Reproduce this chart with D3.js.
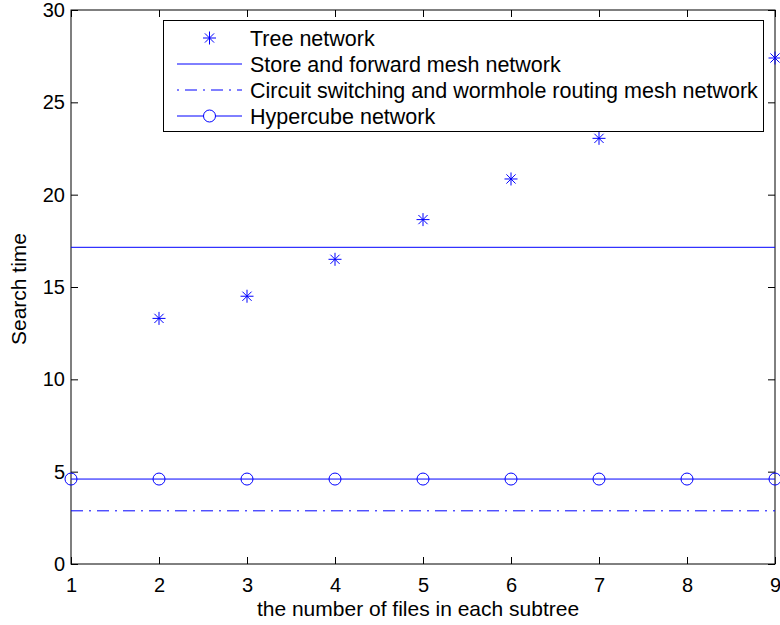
<!DOCTYPE html>
<html>
<head>
<meta charset="utf-8">
<script src="https://cdn.jsdelivr.net/npm/d3@7"></script>
<style>
	body { margin: 0; background: #fff; }
	text { font-family: 'Liberation Sans', Arial, sans-serif; fill: #000; }
</style>
</head>
<body>
<div id="chart"></div>
<script>
// values
const treeX = [ 2, 3, 4, 5, 6, 7, 8, 9 ];
const treeY = [ 13.3, 14.5, 16.5, 18.65, 20.85, 23.05, 25.2, 27.4 ];
const lineX = [ 1, 2, 3, 4, 5, 6, 7, 8, 9 ];
const storeY = [ 17.15, 17.15, 17.15, 17.15, 17.15, 17.15, 17.15, 17.15, 17.15 ];
const circuitY = [ 2.88, 2.88, 2.88, 2.88, 2.88, 2.88, 2.88, 2.88, 2.88 ];
const hyperY = [ 4.6, 4.6, 4.6, 4.6, 4.6, 4.6, 4.6, 4.6, 4.6 ];
const xTicks = [ 1, 2, 3, 4, 5, 6, 7, 8, 9 ];
const yTicks = [ 0, 5, 10, 15, 20, 25, 30 ];
const legendLabels = [
	'Tree network',
	'Store and forward mesh network',
	'Circuit switching and wormhole routing mesh network',
	'Hypercube network'
];
const xLabel = 'the number of files in each subtree';
const yLabel = 'Search time';

let dimensions = {
	width  : 780,
	height : 625,
	margin : {
		top    : 10,
		right  : 5,
		bottom : 61,
		left   : 71
	}
};
dimensions.boundedWidth = dimensions.width - dimensions.margin.left - dimensions.margin.right;
dimensions.boundedHeight = dimensions.height - dimensions.margin.top - dimensions.margin.bottom;

const blue = '#0000ff';

const svg = d3.select('#chart').append('svg').attr('width', dimensions.width).attr('height', dimensions.height);
const bounds = svg.append('g').attr('transform', `translate(${dimensions.margin.left}, ${dimensions.margin.top})`);

const x = d3.scaleLinear().domain([ 1, 9 ]).range([ 0, dimensions.boundedWidth ]);
const y = d3.scaleLinear().domain([ 0, 30 ]).range([ dimensions.boundedHeight, 0 ]);

// axes, ticks pointing inward like matlab
const styleAxis = (g) => {
	g.select('.domain').remove();
	g.selectAll('line').attr('stroke', '#000');
	g.selectAll('text').attr('font-size', '20px').attr('fill', '#000');
};

bounds
	.append('g')
	.attr('transform', `translate(0, ${dimensions.boundedHeight})`)
	.call(d3.axisBottom(x).tickValues(xTicks).tickSize(-7).tickPadding(14).tickFormat(d3.format('d')))
	.call(styleAxis);
bounds
	.append('g')
	.call(d3.axisTop(x).tickValues(xTicks).tickSize(-7).tickFormat(''))
	.call(styleAxis);
bounds
	.append('g')
	.call(d3.axisLeft(y).tickValues(yTicks).tickSize(-7).tickPadding(6).tickFormat(d3.format('d')))
	.call(styleAxis);
bounds
	.append('g')
	.attr('transform', `translate(${dimensions.boundedWidth}, 0)`)
	.call(d3.axisRight(y).tickValues(yTicks).tickSize(-7).tickFormat(''))
	.call(styleAxis);

// box
bounds
	.append('rect')
	.attr('width', dimensions.boundedWidth)
	.attr('height', dimensions.boundedHeight)
	.attr('fill', 'none')
	.attr('stroke', '#000')
	.attr('stroke-width', 1);

// series lines
const line = d3.line().x((d) => x(d[0])).y((d) => y(d[1]));

bounds
	.append('path')
	.datum(lineX.map((d, i) => [ d, storeY[i] ]))
	.attr('d', line)
	.attr('fill', 'none')
	.attr('stroke', blue);

bounds
	.append('path')
	.datum(lineX.map((d, i) => [ d, circuitY[i] ]))
	.attr('d', line)
	.attr('fill', 'none')
	.attr('stroke', blue)
	.attr('stroke-dasharray', '12,6,2,6');

bounds
	.append('path')
	.datum(lineX.map((d, i) => [ d, hyperY[i] ]))
	.attr('d', line)
	.attr('fill', 'none')
	.attr('stroke', blue);

bounds
	.selectAll('.hyper')
	.data(lineX.map((d, i) => [ d, hyperY[i] ]))
	.enter()
	.append('circle')
	.attr('class', 'hyper')
	.attr('cx', (d) => x(d[0]))
	.attr('cy', (d) => y(d[1]))
	.attr('r', 6)
	.attr('fill', 'none')
	.attr('stroke', blue);

// matlab style asterisk: plus + cross
function starPath(cx, cy) {
	const a = 6.5, b = 4.6;
	return `M${cx - a},${cy}L${cx + a},${cy}M${cx},${cy - a}L${cx},${cy + a}` +
		`M${cx - b},${cy - b}L${cx + b},${cy + b}M${cx - b},${cy + b}L${cx + b},${cy - b}`;
}

bounds
	.selectAll('.tree')
	.data(treeX.map((d, i) => [ d, treeY[i] ]))
	.enter()
	.append('path')
	.attr('class', 'tree')
	.attr('d', (d) => starPath(x(d[0]), y(d[1])))
	.attr('fill', 'none')
	.attr('stroke', blue);

// axis labels
svg
	.append('text')
	.attr('x', 418)
	.attr('y', 616)
	.attr('text-anchor', 'middle')
	.attr('font-size', '21px')
	.text(xLabel);

svg
	.append('text')
	.attr('transform', 'translate(26, 289) rotate(-90)')
	.attr('text-anchor', 'middle')
	.attr('font-size', '21px')
	.text(yLabel);

// legend
const legend = svg.append('g').attr('class', 'legend');
legend
	.append('rect')
	.attr('x', 163.5)
	.attr('y', 20.5)
	.attr('width', 600)
	.attr('height', 111)
	.attr('fill', '#fff')
	.attr('stroke', '#000');

const rowY = (i) => 38 + i * 26;

legendLabels.forEach(function(label, i) {
	const g = legend.append('g');
	const ry = rowY(i);
	if (i === 0) {
		g.append('path').attr('d', starPath(209.5, ry)).attr('stroke', blue).attr('fill', 'none');
	} else {
		g
			.append('line')
			.attr('x1', 177)
			.attr('x2', 242)
			.attr('y1', ry)
			.attr('y2', ry)
			.attr('stroke', blue)
			.attr('stroke-dasharray', i === 2 ? '2,6,12,6' : null);
		if (i === 3) {
			g.append('circle').attr('cx', 209.5).attr('cy', ry).attr('r', 6).attr('fill', '#fff').attr('stroke', blue);
		}
	}
	g
		.append('text')
		.attr('x', 250)
		.attr('y', ry + 7.5)
		.attr('font-size', '21.5px')
		.text(label);
});
</script>
</body>
</html>
